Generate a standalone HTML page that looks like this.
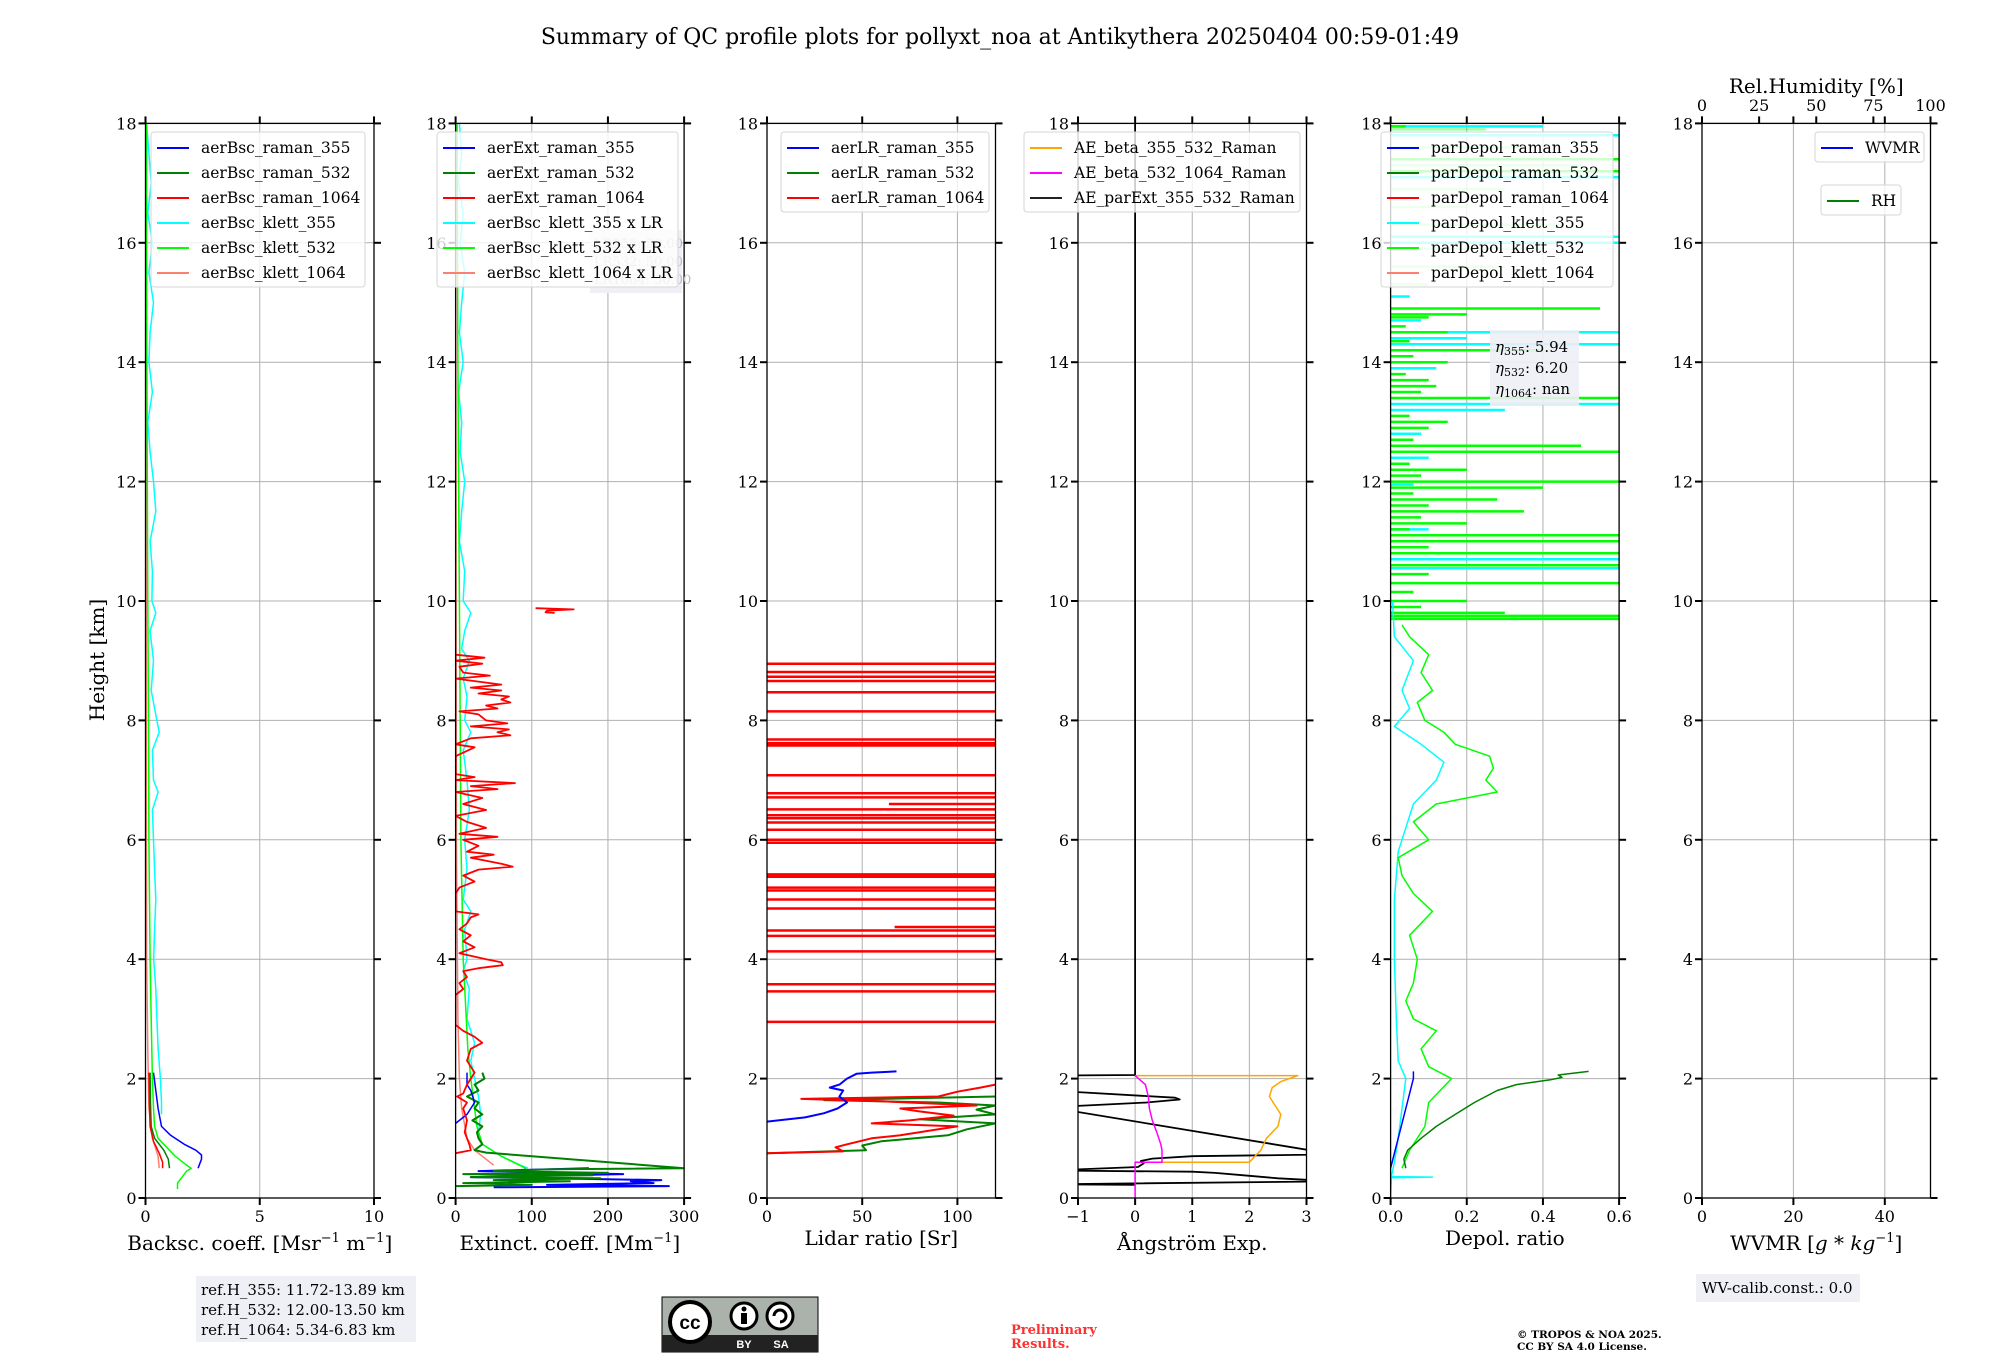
<!DOCTYPE html>
<html><head><meta charset="utf-8">
<style>
html,body{margin:0;padding:0;background:#fff;}
svg{display:block;font-family:"DejaVu Serif","Liberation Serif",serif;}
</style></head>
<body>
<svg id="fig" width="2000" height="1360" viewBox="0 0 2000 1360" xmlns="http://www.w3.org/2000/svg">
<rect x="0" y="0" width="2000" height="1360" fill="#fff"/>
<text x="1000" y="44" font-size="22" text-anchor="middle">Summary of QC profile plots for pollyxt_noa at Antikythera 20250404 00:59-01:49</text>
<text transform="translate(104,660) rotate(-90)" font-size="20" text-anchor="middle">Height [km]</text>
<g id="panels"></g>
<g id="overlay"></g>
</svg>
<script>
// ---------- data ----------
const heightTicks=[0,2,4,6,8,10,12,14,16,18];
const p1Ticks=[0,5,10];
const p2Ticks=[0,100,200,300];
const p3Ticks=[0,50,100];
const p4Ticks=[-1,0,1,2,3];
const p5Ticks=[0.0,0.2,0.4,0.6];
const p6Ticks=[0,20,40];
const rhTicks=[0,25,50,75,100];

// Panel 1 backscatter [h, value]
const bscKlett355=[[18,0.05],[17.5,0.15],[17,0.25],[16.5,0.1],[16,0.3],[15.5,0.15],[15,0.35],[14.5,0.2],[14,0.15],[13.5,0.3],[13,0.1],[12.5,0.2],[12,0.35],[11.5,0.45],[11,0.2],[10.5,0.3],[10,0.28],[9.8,0.45],[9.5,0.2],[9,0.35],[8.5,0.25],[8,0.5],[7.8,0.6],[7.5,0.3],[7,0.35],[6.8,0.55],[6.5,0.3],[6,0.35],[5.5,0.4],[5,0.45],[4.5,0.4],[4,0.36],[3.5,0.45],[3,0.5],[2.5,0.55],[2,0.65],[1.6,0.7],[1.4,0.7]];
const bscKlett532=[[18,0.05],[16,0.05],[14,0.06],[12,0.08],[10,0.1],[8,0.13],[6,0.15],[4,0.2],[3,0.25],[2,0.3],[1.5,0.35],[1.2,0.4],[1,0.55],[0.9,0.8],[0.7,1.3],[0.55,1.8],[0.5,2.0],[0.45,1.8],[0.35,1.6],[0.25,1.4],[0.15,1.4]];
const bscRaman355=[[2.1,0.35],[1.8,0.45],[1.5,0.55],[1.2,0.7],[1.05,1.1],[0.9,1.7],[0.8,2.2],[0.72,2.45],[0.65,2.45],[0.55,2.35],[0.5,2.3]];
const bscRaman532=[[2.1,0.2],[1.6,0.22],[1.2,0.25],[1.0,0.4],[0.8,0.8],[0.65,1.0],[0.5,1.05]];
const bscRaman1064=[[2.1,0.15],[1.6,0.17],[1.2,0.2],[0.95,0.35],[0.75,0.6],[0.6,0.75],[0.5,0.75]];
const bscKlett1064=[[18,0.02],[10,0.03],[4,0.05],[2.5,0.1],[1.5,0.15],[1.0,0.3],[0.7,0.55],[0.5,0.6]];

// Panel 2 extinction
const extKlett355=[[18,5],[17.5,8],[17,4],[16.5,10],[16,6],[15.5,12],[15,8],[14.5,5],[14,10],[13.5,4],[13,8],[12.5,6],[12,12],[11.5,8],[11,5],[10.5,12],[10,10],[9.8,20],[9.5,12],[9.2,8],[9,18],[8.7,10],[8.4,15],[8,12],[7.8,20],[7.5,10],[7,15],[6.5,18],[6,12],[5.5,15],[5,10],[4.8,20],[4.5,12],[4,15],[3.8,10],[3.5,18],[3,15],[2.6,25],[2.3,20],[2,25],[1.7,30],[1.4,33],[1.1,30],[0.9,35],[0.7,60],[0.55,85],[0.5,95]];
const extKlett532=[[18,2],[14,3],[12,4],[10,5],[8,6],[6,7],[4,10],[3,14],[2.5,16],[2,20],[1.5,25],[1.2,28],[0.9,35],[0.7,60],[0.5,92],[0.4,80],[0.3,75],[0.2,70]];
const extKlett1064=[[18,0],[6,1],[3,3],[2,5],[1.5,8],[1.0,15],[0.8,25],[0.55,50]];
const extRaman1064=[[9.1,0],[9.05,38],[9.0,0],[8.95,35],[8.9,5],[8.8,10],[8.75,45],[8.7,0],[8.65,30],[8.6,60],[8.55,20],[8.5,60],[8.45,30],[8.4,70],[8.35,60],[8.3,72],[8.25,40],[8.2,55],[8.15,5],[8.1,30],[8.0,40],[7.95,68],[7.9,20],[7.85,70],[7.8,55],[7.75,72],[7.7,20],[7.6,0],[7.55,25],[7.4,0],[7.1,0],[7.05,25],[7.0,0],[6.95,78],[6.9,20],[6.85,55],[6.8,0],[6.7,35],[6.6,10],[6.5,40],[6.4,0],[6.3,15],[6.2,40],[6.1,5],[6.05,55],[6.0,10],[5.9,30],[5.8,15],[5.75,50],[5.7,20],[5.6,60],[5.55,75],[5.5,30],[5.4,10],[5.3,25],[5.2,5],[5.1,0],[4.8,0],[4.75,30],[4.7,20],[4.6,15],[4.5,5],[4.4,20],[4.3,10],[4.2,25],[4.1,5],[4.0,40],[3.95,60],[3.9,62],[3.85,30],[3.8,10],[3.7,15],[3.6,5],[3.5,10],[3.4,0],[2.9,0],[2.8,10],[2.7,25],[2.6,35],[2.5,20],[2.3,15],[2.1,25],[2.0,20],[1.9,15],[1.75,10],[1.7,2],[1.6,15],[1.5,10],[1.3,15],[1.1,12],[0.9,18],[0.8,20],[0.75,0]];
const extRaman1064b=[[9.88,105],[9.86,155],[9.84,120],[9.81,118],[9.80,130]];
const extRaman532=[[2.1,35],[2.0,38],[1.9,25],[1.8,30],[1.7,15],[1.6,30],[1.5,25],[1.4,35],[1.3,22],[1.2,35],[1.1,28],[1.0,30],[0.9,35],[0.8,25],[0.76,40],[0.5,300],[0.48,130],[0.45,50],[0.42,200],[0.4,10],[0.38,180],[0.35,20],[0.33,190],[0.3,50],[0.28,150],[0.25,10],[0.22,100],[0.2,0]];
const extRaman355=[[2.1,15],[1.9,15],[1.8,20],[1.6,25],[1.4,15],[1.3,5],[1.25,0]];
const extRaman355b=[[0.5,175],[0.45,30],[0.4,220],[0.35,20],[0.3,270],[0.28,230],[0.25,260],[0.22,120],[0.2,280],[0.18,50]];

// Panel 3 lidar ratio
const lr1064Spikes=[[8.95,500],[8.81,500],[8.73,500],[8.66,500],[8.47,500],[8.15,500],[7.68,500],[7.62,500],[7.58,500],[7.08,500],[6.78,500],[6.71,500],[6.60,-64],[6.51,500],[6.41,500],[6.36,500],[6.29,500],[6.17,500],[6.0,500],[5.95,500],[5.42,500],[5.38,500],[5.20,500],[5.15,500],[5.0,500],[4.85,500],[4.54,-67],[4.48,500],[4.39,500],[4.13,500],[3.58,500],[3.46,500],[2.95,500]];
const lr355=[[1.28,0],[1.35,20],[1.42,30],[1.5,37],[1.6,42],[1.7,38],[1.8,40],[1.85,33],[1.9,38],[2.0,42],[2.08,47],[2.1,55],[2.12,68]];
const lr1064=[[0.75,0],[0.78,40],[0.85,36],[0.9,42],[1.0,55],[1.05,70],[1.15,90],[1.2,100],[1.25,55],[1.3,75],[1.38,98],[1.45,80],[1.5,70],[1.55,110],[1.62,60],[1.66,18],[1.7,90],[1.78,100],[1.85,112],[1.9,120]];
const lr532=[[0.75,0],[0.8,52],[0.88,50],[0.95,60],[1.05,95],[1.15,105],[1.25,120],[1.32,80],[1.4,120],[1.48,110],[1.55,120],[1.6,90],[1.64,30],[1.7,120]];

// Panel 4 Angstrom
const aeParExt=[[18,0],[2.06,0],[2.05,-1.5],[1.8,-1.5],[1.68,0.7],[1.65,0.78],[1.6,0.2],[1.52,-1.5],[0.73,3.5],[0.7,1.0],[0.66,0.3],[0.62,0.1],[0.58,0.15],[0.52,0.05],[0.46,-1.5],[0.44,1.0],[0.42,1.4],[0.38,1.9],[0.33,2.5],[0.28,3.5],[0.23,-1.5],[0.22,0]];
const aeBeta355532=[[2.05,0],[2.05,2.85],[1.95,2.55],[1.85,2.4],[1.7,2.35],[1.55,2.45],[1.4,2.55],[1.2,2.5],[1.0,2.3],[0.8,2.2],[0.65,2.05],[0.6,2.0],[0.6,0.45]];
const aeBeta5321064=[[2.05,0],[1.9,0.18],[1.7,0.23],[1.5,0.25],[1.3,0.3],[1.1,0.38],[0.9,0.45],[0.8,0.47],[0.6,0.47],[0.6,0],[0,0]];

// Panel 5 depol
const depRaman532=[[0.5,0.04],[0.65,0.035],[0.8,0.045],[1.0,0.08],[1.2,0.12],[1.4,0.17],[1.6,0.22],[1.8,0.28],[1.9,0.33],[1.98,0.42],[2.02,0.45],[2.06,0.44],[2.12,0.52]];
const depRaman355=[[0.5,0.0],[1.0,0.02],[1.5,0.04],[2.0,0.06],[2.12,0.06]];
const depKlett532=[[0.5,0.03],[0.8,0.05],[1.2,0.09],[1.6,0.1],[2.0,0.16],[2.2,0.1],[2.5,0.08],[2.8,0.12],[3.0,0.06],[3.3,0.04],[3.6,0.06],[4.0,0.07],[4.4,0.05],[4.8,0.11],[5.1,0.06],[5.4,0.03],[5.7,0.02],[6.0,0.1],[6.3,0.06],[6.6,0.12],[6.8,0.28],[7.0,0.25],[7.2,0.27],[7.4,0.26],[7.6,0.17],[7.8,0.14],[8.0,0.09],[8.3,0.07],[8.5,0.11],[8.8,0.08],[9.1,0.1],[9.4,0.05],[9.6,0.03]];
const depKlett355=[[0.0,0.0],[0.34,0.002],[0.35,0.11],[0.36,0.002],[0.6,0.01],[1.0,0.02],[1.5,0.03],[2.0,0.04],[2.3,0.02],[3.0,0.015],[4.0,0.01],[5.0,0.01],[5.8,0.02],[6.2,0.04],[6.6,0.06],[7.0,0.12],[7.3,0.14],[7.6,0.08],[7.9,0.01],[8.2,0.05],[8.5,0.03],[9.0,0.06],[9.4,0.01],[10,0.005]];
const depGreenSpikes=[[9.7,0.6],[9.75,0.6],[9.8,0.3],[9.9,0.08],[10.0,0.2],[10.15,0.06],[10.3,0.6],[10.45,0.1],[10.6,0.6],[10.8,0.6],[10.9,0.1],[11.0,0.6],[11.1,0.6],[11.2,0.05],[11.3,0.2],[11.4,0.08],[11.5,0.35],[11.6,0.1],[11.7,0.28],[11.8,0.06],[11.9,0.4],[12.0,0.6],[12.1,0.08],[12.2,0.2],[12.3,0.05],[12.5,0.6],[12.6,0.5],[12.7,0.06],[12.9,0.1],[13.0,0.15],[13.1,0.05],[13.4,0.6],[13.5,0.08],[13.6,0.12],[13.7,0.1],[13.8,0.04],[14.0,0.15],[14.1,0.06],[14.2,0.4],[14.35,0.05],[14.5,0.15],[14.6,0.04],[14.75,0.1],[14.8,0.2],[14.9,0.55],[17.2,0.6],[17.4,0.6],[17.95,0.04]];
const depCyanSpikes=[[10.55,0.6],[10.7,0.6],[11.2,0.1],[11.95,0.06],[12.4,0.1],[12.8,0.08],[13.2,0.3],[13.3,0.6],[13.9,0.12],[14.0,0.1],[14.3,0.6],[14.4,0.2],[14.5,0.6],[14.7,0.08],[15.1,0.05],[16.0,0.6],[16.1,0.6],[17.1,0.6],[17.8,0.6],[17.95,0.4]];
const depLightSpikes=[[15.3,0.1],[15.6,0.3],[15.9,0.4],[16.3,0.45],[16.6,0.2],[16.9,0.3],[17.3,0.5],[17.6,0.35],[17.9,0.25]];

// ---------- layout ----------
const Y0=1198, PXKM=59.7, PW=228.5;
const lefts=[145.5,455.6,767,1078,1390.6,1702];
const ranges=[[0,10],[0,300],[0,120],[-1,3],[0,0.6],[0,50]];
const NS='http://www.w3.org/2000/svg';
const panelsG=document.getElementById('panels');
const overlayG=document.getElementById('overlay');
function yH(h){return Y0-h*PXKM;}
function xV(i,v){const r=ranges[i];return lefts[i]+(v-r[0])/(r[1]-r[0])*PW;}
function mk(tag,parent){const e=document.createElementNS(NS,tag);parent.appendChild(e);return e;}
function setA(e,o){for(const k in o)e.setAttribute(k,o[k]);}

function addPanel(i,xticks,xlabelParts,labelY){
  const g=mk('g',panelsG);
  
  
  const L=lefts[i],R=L+PW,T=yH(18),B=Y0;
  const cp=mk('clipPath',g);cp.setAttribute('id','clip'+i);
  const cr=mk('rect',cp);setA(cr,{x:L,y:T,width:PW,height:B-T});
  const grid=mk('g',g);
  
  
  heightTicks.forEach(h=>{const l=mk('line',grid);setA(l,{x1:L,x2:R,y1:yH(h),y2:yH(h),stroke:'#b0b0b0','stroke-width':1});});
  xticks.forEach(v=>{const x=xV(i,v);const l=mk('line',grid);setA(l,{x1:x,x2:x,y1:T,y2:B,stroke:'#b0b0b0','stroke-width':1});});
  const data=mk('g',g);data.setAttribute('clip-path','url(#clip'+i+')');
  
  
  const fr=mk('rect',g);setA(fr,{x:L,y:T,width:PW,height:B-T,fill:'none',stroke:'#000','stroke-width':1.3});
  
  
  heightTicks.forEach(h=>{
    const y=yH(h);
    const a=mk('line',g);setA(a,{x1:L-7,x2:L,y1:y,y2:y,stroke:'#000','stroke-width':2});
    const b=mk('line',g);setA(b,{x1:R,x2:R+7,y1:y,y2:y,stroke:'#000','stroke-width':2});
    const t=mk('text',g);setA(t,{x:L-9,y:y+6,'font-size':16,'text-anchor':'end'});t.textContent=h;
    
    
  });
  xticks.forEach(v=>{
    const x=xV(i,v);
    const a=mk('line',g);setA(a,{x1:x,x2:x,y1:B,y2:B+7,stroke:'#000','stroke-width':2});
    const b=mk('line',g);setA(b,{x1:x,x2:x,y1:T-7,y2:T,stroke:'#000','stroke-width':2});
    const t=mk('text',g);setA(t,{x:x,y:B+24,'font-size':16,'text-anchor':'middle'});
    t.textContent=(i===4?v.toFixed(1):(v<0?'\u2212'+Math.abs(v):v));
    
    
  });
  const xl=mk('text',g);setA(xl,{x:L+PW/2,y:labelY,'font-size':20,'text-anchor':'middle'});
  xl.innerHTML=xlabelParts;
  
  
  return data;
}
function line(parent,i,pts,color,w,name,op){
  const p=mk('path',parent);
  const d=pts.map((q,k)=>(k?'L':'M')+xV(i,q[1]).toFixed(1)+' '+yH(q[0]).toFixed(1)).join(' ');
  setA(p,{d:d,fill:'none',stroke:color,'stroke-width':w||1.5,'stroke-linejoin':'round'});
  if(op)p.setAttribute('stroke-opacity',op);
  
  
}
function spikes(parent,i,pts,color,w,name,op){
  const p=mk('path',parent);
  let d='';
  pts.forEach(q=>{const v=q[1];const x0=v<0?xV(i,-v):xV(i,0);const x1=v<0?xV(i,ranges[i][1]*4):xV(i,v);d+='M'+x0.toFixed(1)+' '+yH(q[0]).toFixed(1)+'L'+x1.toFixed(1)+' '+yH(q[0]).toFixed(1);});
  setA(p,{d:d,fill:'none',stroke:color,'stroke-width':w||2});
  if(op)p.setAttribute('stroke-opacity',op);
  
  
}
const SUP1='<tspan font-size="13" dy="-8">\u22121</tspan><tspan dy="8"> </tspan>';
let d;
d=addPanel(0,p1Ticks,'Backsc. coeff. [Msr'+SUP1+'m<tspan font-size="13" dy="-8">\u22121</tspan><tspan dy="8">]</tspan>',1250);
line(d,0,bscKlett1064,'#fa8072',1.5,'aerBsc-klett-1064-line');
line(d,0,bscKlett355,'#00ffff',1.5,'aerBsc-klett-355-line');
line(d,0,bscKlett532,'#00ff00',1.5,'aerBsc-klett-532-line');
line(d,0,bscRaman532,'#008000',1.5,'aerBsc-raman-532-line');
line(d,0,bscRaman1064,'#ff0000',1.5,'aerBsc-raman-1064-line');
line(d,0,bscRaman355,'#0000ff',1.5,'aerBsc-raman-355-line');

d=addPanel(1,p2Ticks,'Extinct. coeff. [Mm<tspan font-size="13" dy="-8">\u22121</tspan><tspan dy="8">]</tspan>',1250);
line(d,1,extKlett1064,'#fa8072',1.5,'ext-klett-1064-line');
line(d,1,extKlett355,'#00ffff',1.5,'ext-klett-355-line');
line(d,1,extKlett532,'#00ff00',1.5,'ext-klett-532-line');
line(d,1,extRaman355b,'#0000ff',2,'ext-raman-355-low-line');
line(d,1,extRaman532,'#008000',2,'ext-raman-532-line');
line(d,1,extRaman355,'#0000ff',1.5,'ext-raman-355-line');
line(d,1,extRaman1064,'#ff0000',1.8,'ext-raman-1064-line');
line(d,1,extRaman1064b,'#ff0000',1.8,'ext-raman-1064-cloud-line');

d=addPanel(2,p3Ticks,'Lidar ratio [Sr]',1245);
spikes(d,2,lr1064Spikes,'#ff0000',2.5,'lr-raman-1064-spikes');
line(d,2,lr532,'#008000',2,'lr-raman-532-line');
line(d,2,lr1064,'#ff0000',2,'lr-raman-1064-line');
line(d,2,lr355,'#0000ff',2,'lr-raman-355-line');

d=addPanel(3,p4Ticks,'\u00c5ngstr\u00f6m Exp.',1250);
line(d,3,aeParExt,'#000000',1.8,'ae-parext-355-532-line');
line(d,3,aeBeta355532,'#ffa500',1.5,'ae-beta-355-532-line');
line(d,3,aeBeta5321064,'#ff00ff',1.5,'ae-beta-532-1064-line');

d=addPanel(4,p5Ticks,'Depol. ratio',1245);
spikes(d,4,depLightSpikes,'#00ff00',2.5,'depol-light-spikes',0.35);
spikes(d,4,depCyanSpikes,'#00ffff',2.5,'depol-klett-355-spikes');
spikes(d,4,depGreenSpikes,'#00ff00',2.5,'depol-klett-532-spikes');
line(d,4,depKlett355,'#00ffff',1.5,'depol-klett-355-line');
line(d,4,depKlett532,'#00ff00',1.5,'depol-klett-532-line');
line(d,4,depRaman532,'#008000',1.5,'depol-raman-532-line');
line(d,4,depRaman355,'#0000ff',1.5,'depol-raman-355-line');

d=addPanel(5,p6Ticks,'WVMR [<tspan font-style="italic">g</tspan> * <tspan font-style="italic">kg</tspan><tspan font-size="13" dy="-8">\u22121</tspan><tspan dy="8">]</tspan>',1250);
rhTicks.forEach(v=>{
  const x=lefts[5]+v/100*PW;
  const t=mk('text',overlayG);setA(t,{x:x,y:111,'font-size':16,'text-anchor':'middle'});t.textContent=v;
  
  
  const l=mk('line',overlayG);setA(l,{x1:x,x2:x,y1:yH(18)-7,y2:yH(18),stroke:'#000','stroke-width':2});
});
const rht=mk('text',overlayG);setA(rht,{x:lefts[5]+PW/2,y:93,'font-size':20,'text-anchor':'middle'});rht.textContent='Rel.Humidity [%]';



const lrb=mk('g',overlayG);


setA(mk('rect',lrb),{x:590,y:230,width:92,height:63,fill:'#eef0f5'});
['LR355: 50.00','LR532: 50.00','LR1064: 50.00'].forEach((s,k)=>{const t=mk('text',lrb);setA(t,{x:594,y:248+k*18,'font-size':13,fill:'#bbb'});t.textContent=s;});

function legend(name,x,y,w,items){
  const g=mk('g',overlayG);
  
  
  setA(mk('rect',g),{x:x,y:y,width:w,height:items.length*25+5,rx:3,fill:'#fff','fill-opacity':0.8,stroke:'#d6d6d6'});
  items.forEach((it,k)=>{
    const yy=y+16+k*25;
    const l=mk('line',g);setA(l,{x1:x+6,x2:x+38,y1:yy,y2:yy,stroke:it[1],'stroke-width':2});
    const t=mk('text',g);setA(t,{x:x+50,y:yy+5,'font-size':15.5});t.textContent=it[0];
    
    
  });
}
legend('legend-backscatter',151,132,214,[['aerBsc_raman_355','#0000ff'],['aerBsc_raman_532','#008000'],['aerBsc_raman_1064','#ff0000'],['aerBsc_klett_355','#00ffff'],['aerBsc_klett_532','#00ff00'],['aerBsc_klett_1064','#fa8072']]);
legend('legend-extinction',437,132,241,[['aerExt_raman_355','#0000ff'],['aerExt_raman_532','#008000'],['aerExt_raman_1064','#ff0000'],['aerBsc_klett_355 x LR','#00ffff'],['aerBsc_klett_532 x LR','#00ff00'],['aerBsc_klett_1064 x LR','#fa8072']]);
legend('legend-lidar-ratio',781,132,208,[['aerLR_raman_355','#0000ff'],['aerLR_raman_532','#008000'],['aerLR_raman_1064','#ff0000']]);
legend('legend-angstrom',1024,132,276,[['AE_beta_355_532_Raman','#ffa500'],['AE_beta_532_1064_Raman','#ff00ff'],['AE_parExt_355_532_Raman','#222222']]);
legend('legend-depol',1381,132,232,[['parDepol_raman_355','#0000ff'],['parDepol_raman_532','#008000'],['parDepol_raman_1064','#ff0000'],['parDepol_klett_355','#00ffff'],['parDepol_klett_532','#00ff00'],['parDepol_klett_1064','#fa8072']]);
legend('legend-wvmr',1815,132,109,[['WVMR','#0000ff']]);
legend('legend-rh',1821,185,80,[['RH','#008000']]);

const eb=mk('g',overlayG);


setA(mk('rect',eb),{x:1490,y:330,width:89,height:75,fill:'#eef0f5','fill-opacity':0.9});
[['355','5.94'],['532','6.20'],['1064','nan']].forEach((p,k)=>{const t=mk('text',eb);setA(t,{x:1495,y:352+k*21,'font-size':15});
  t.innerHTML='<tspan font-style="italic">\u03b7</tspan><tspan font-size="11" dy="3">'+p[0]+'</tspan><tspan dy="-3">: '+p[1]+'</tspan>';});

const rb=mk('g',overlayG);


setA(mk('rect',rb),{x:196,y:1276,width:220,height:66,fill:'#eef0f5'});
['ref.H_355: 11.72-13.89 km','ref.H_532: 12.00-13.50 km','ref.H_1064: 5.34-6.83 km'].forEach((s,k)=>{const t=mk('text',rb);setA(t,{x:201,y:1295+k*20,'font-size':15});t.textContent=s;});

const wb=mk('g',overlayG);


setA(mk('rect',wb),{x:1696,y:1274,width:164,height:28,fill:'#eef0f5'});
const wt=mk('text',wb);setA(wt,{x:1702,y:1293,'font-size':15});wt.textContent='WV-calib.const.: 0.0';

const cc=mk('g',overlayG);


setA(mk('rect',cc),{x:662,y:1297,width:156,height:55,fill:'#aab2ab',stroke:'#000','stroke-width':1});
setA(mk('rect',cc),{x:662,y:1335,width:156,height:17,fill:'#222'});
setA(mk('circle',cc),{cx:690,cy:1322,r:20,fill:'#fff',stroke:'#000','stroke-width':4});
const cct=mk('text',cc);setA(cct,{x:690,y:1329,'font-size':19,'font-weight':'bold','text-anchor':'middle','font-family':'Liberation Sans, sans-serif'});cct.textContent='cc';
setA(mk('circle',cc),{cx:744,cy:1316,r:13,fill:'#fff',stroke:'#000','stroke-width':3});
setA(mk('circle',cc),{cx:744,cy:1309,r:2.5,fill:'#000'});
setA(mk('rect',cc),{x:741,y:1313,width:6,height:11,fill:'#000'});
setA(mk('circle',cc),{cx:780,cy:1316,r:13,fill:'#fff',stroke:'#000','stroke-width':3});
setA(mk('path',cc),{d:'M774 1316 A6 6 0 1 1 780 1322',fill:'none',stroke:'#000','stroke-width':3});
[['BY',744],['SA',781]].forEach(p=>{const t=mk('text',cc);setA(t,{x:p[1],y:1348,'font-size':11,'font-weight':'bold',fill:'#fff','text-anchor':'middle','font-family':'Liberation Sans, sans-serif'});t.textContent=p[0];});

const pr=mk('text',overlayG);setA(pr,{x:1011,y:1334,'font-size':13,'font-weight':'bold',fill:'#ff3030'});
pr.innerHTML='<tspan x="1011">Preliminary</tspan><tspan x="1011" dy="14">Results.</tspan>';


const cp=mk('text',overlayG);setA(cp,{x:1517,y:1338,'font-size':10.5,'font-weight':'bold'});
cp.innerHTML='<tspan x="1517">\u00a9 TROPOS &amp; NOA 2025.</tspan><tspan x="1517" dy="12">CC BY SA 4.0 License.</tspan>';


</script>
</body></html>
